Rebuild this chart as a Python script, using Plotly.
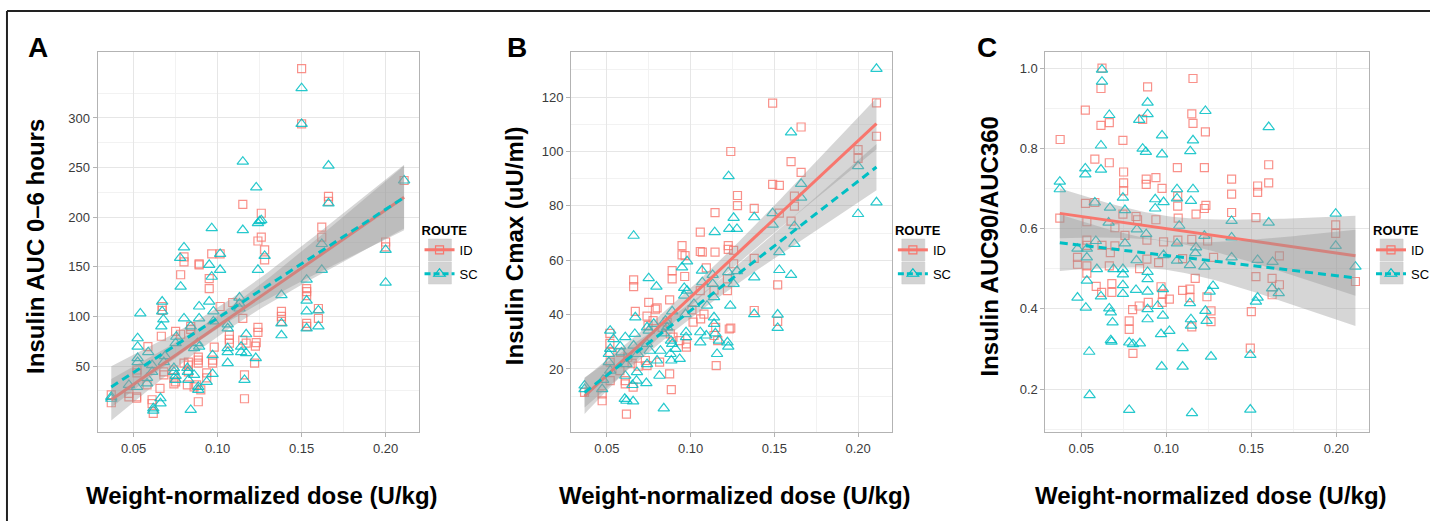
import numpy as np
import plotly.graph_objects as go

ID_COLOR = "#F8766D"
SC_COLOR = "#00BFC4"
FONT = "Liberation Sans, Arial, sans-serif"

# ---------------- Panel A: Insulin AUC 0-6 hours ----------------
a_id_dose = [0.150, 0.150, 0.166, 0.166, 0.115, 0.126, 0.126, 0.124, 0.128, 0.128, 0.162, 0.162, 0.200, 0.200, 0.211,
             0.0965, 0.1015, 0.080, 0.080, 0.089, 0.089, 0.078, 0.095, 0.095, 0.153, 0.153, 0.153, 0.153, 0.153, 0.160,
             0.160, 0.138, 0.138, 0.138, 0.067, 0.067, 0.0665, 0.1015, 0.109, 0.115, 0.124, 0.124, 0.123, 0.1225, 0.117,
             0.115, 0.107, 0.107, 0.107, 0.098, 0.097, 0.097, 0.075, 0.078, 0.084, 0.084, 0.0585, 0.074, 0.074, 0.074,
             0.0826, 0.0826, 0.0826, 0.082, 0.086, 0.0885, 0.0885, 0.0885, 0.0885, 0.0935, 0.0935, 0.116, 0.116, 0.122,
             0.0657, 0.061, 0.061, 0.0617, 0.0518, 0.0518, 0.0472, 0.0472, 0.0367, 0.0367, 0.052, 0.052, 0.058, 0.068,
             0.068, 0.075, 0.080, 0.0875, 0.090]
a_id_auc = [349.7, 294, 221, 216, 213, 204, 180, 176, 167, 157, 190, 180, 175, 170, 237,
            163, 163, 160, 155, 153, 152, 142, 138, 128, 128, 125, 121, 93, 90, 108,
            98, 105, 100, 95, 110, 106, 80, 110, 114, 98, 89, 84, 73.5, 70, 73,
            76, 81, 77, 73, 69, 56, 53, 85, 82, 90, 87, 69.5, 46, 38, 32,
            54, 51, 44, 31, 29, 59, 56, 53, 14, 43, 38, 41, 17, 53,
            27.5, 16, 12, 2.3, 19, 17.5, 22.5, 19, 21, 13, 46, 43, 31, 44,
            41, 34, 53, 31, 26]
a_sc_dose = [0.150, 0.150, 0.115, 0.166, 0.123, 0.211, 0.166, 0.125, 0.126, 0.124, 0.0965, 0.115, 0.128, 0.1015, 0.080,
             0.0777, 0.1015, 0.124, 0.162, 0.162, 0.095, 0.0965, 0.078, 0.153, 0.153, 0.153, 0.153, 0.160, 0.160, 0.138,
             0.138, 0.138, 0.200, 0.200, 0.054, 0.067, 0.067, 0.0677, 0.0665, 0.080, 0.089, 0.089, 0.095, 0.0975, 0.0975,
             0.084, 0.113, 0.113, 0.113, 0.117, 0.106, 0.106, 0.106, 0.106, 0.106, 0.114, 0.114, 0.117, 0.1227, 0.097,
             0.097, 0.116, 0.0524, 0.0524, 0.0524, 0.0524, 0.0587, 0.061, 0.061, 0.058, 0.058, 0.0687, 0.068, 0.074, 0.074,
             0.075, 0.075, 0.082, 0.0823, 0.0826, 0.086, 0.0885, 0.0885, 0.0935, 0.084, 0.0617, 0.0617, 0.066, 0.066,
             0.052, 0.0472, 0.0367, 0.0367, 0.0754, 0.075, 0.086, 0.088, 0.089]
a_sc_auc = [330, 294, 256, 252, 230, 237, 214, 196, 197, 194, 189, 187, 161, 163, 169.5,
            159, 147, 147, 173, 147, 152, 140, 130, 137, 116, 105, 88, 106, 90, 121.5,
            93, 81, 167, 134, 103, 115, 105, 97, 90, 98, 110, 98, 115, 105, 95,
            90, 119, 113, 108, 82, 92, 88, 68, 64, 53, 69.5, 64, 63, 58, 61,
            42, 36, 78, 69.5, 58, 54, 64, 51, 44, 38, 32.5, 60, 54, 48, 44,
            40, 36, 48, 44, 36, 41, 29, 26, 34, 5.7, 7.4, 5, 17.5, 12.4,
            29, 31, 19, 17, 79.5, 73, 68, 73, 69.5]

# ---------------- Panel B: Insulin Cmax ----------------
b_id_dose = [0.211, 0.211, 0.200, 0.200, 0.149, 0.166, 0.160, 0.166, 0.149, 0.153, 0.162, 0.162, 0.160, 0.153, 0.124,
             0.128, 0.128, 0.138, 0.138, 0.1146, 0.1058, 0.0949, 0.0949, 0.0967, 0.1058, 0.107, 0.1146, 0.1225, 0.1225,
             0.1257, 0.1257, 0.089, 0.089, 0.0965, 0.1094, 0.066, 0.066, 0.075, 0.079, 0.080, 0.067, 0.0875, 0.1058,
             0.114, 0.122, 0.122, 0.1015, 0.106, 0.108, 0.115, 0.114, 0.1162, 0.1231, 0.124, 0.152, 0.152, 0.138,
             0.1153, 0.074, 0.0746, 0.0776, 0.086, 0.083, 0.0879, 0.0895, 0.0935, 0.0975, 0.0975, 0.0518, 0.0518,
             0.0518, 0.052, 0.058, 0.0625, 0.0651, 0.0687, 0.073, 0.074, 0.0815, 0.0875, 0.0885, 0.0367, 0.0472,
             0.0472, 0.061, 0.061, 0.0617, 0.0657, 0.052, 0.0578, 0.1008]
b_id_cmax = [117.9, 105.6, 100.7, 97.5, 117.8, 109, 96.3, 92.3, 87.9, 87.5, 83.6, 79.9, 74.4, 77.3, 100,
             83.8, 80.1, 79.1, 60.7, 77.5, 70.3, 65.4, 62, 61.7, 63.2, 63, 63, 65.4, 64,
             63.6, 58.7, 56.2, 53.1, 54, 57.2, 52.8, 50.3, 44.5, 42, 42.5, 41.2, 45.4, 48.8,
             49, 53.1, 48.8, 37.2, 38.4, 40.2, 35.3, 32.3, 30.4, 34.7, 35, 50.9, 37.5, 41.5,
             21.2, 39.4, 36, 37.8, 37.2, 35.3, 32.9, 31.7, 30.4, 29.2, 28, 33.1, 29.4,
             26.1, 22.5, 26.1, 24.3, 22.1, 21, 23.1, 21.2, 22.5, 18.2, 12.4, 11.4, 10.8,
             8.3, 15.7, 14.5, 3.4, 13.3, 15.7, 19.4, 41.7]
b_sc_dose = [0.211, 0.211, 0.200, 0.200, 0.160, 0.166, 0.166, 0.149, 0.149, 0.162, 0.162, 0.153, 0.153, 0.160, 0.138,
             0.138, 0.138, 0.152, 0.152, 0.1227, 0.1257, 0.1231, 0.1277, 0.1144, 0.066, 0.0979, 0.0949, 0.1068, 0.107,
             0.1132, 0.1225, 0.1277, 0.1257, 0.114, 0.1132, 0.075, 0.0796, 0.0962, 0.0962, 0.0979, 0.1237, 0.1098,
             0.102, 0.097, 0.078, 0.089, 0.067, 0.074, 0.075, 0.085, 0.086, 0.084, 0.0883, 0.089, 0.091, 0.0935,
             0.088, 0.0885, 0.082, 0.1058, 0.1058, 0.1094, 0.114, 0.114, 0.1148, 0.117, 0.122, 0.1225, 0.1158, 0.0973,
             0.0973, 0.052, 0.054, 0.061, 0.0667, 0.058, 0.052, 0.0512, 0.0512, 0.0587, 0.0617, 0.066, 0.0685, 0.074,
             0.0756, 0.080, 0.074, 0.068, 0.0677, 0.061, 0.0736, 0.0814, 0.0653, 0.0607, 0.0617, 0.0657, 0.084,
             0.0367, 0.0367, 0.0472, 0.052, 0.0478]
b_sc_cmax = [130.4, 81.3, 94.6, 77, 107, 88.1, 83, 77.3, 73.1, 72.5, 66, 63, 56.4, 54.6, 75.8,
             53.7, 40.2, 40, 35.1, 90.9, 75.6, 71.5, 71.5, 70.3, 69, 59.6, 57.4, 56.2, 51.9,
             54.6, 55.6, 56, 51.3, 46.4, 51.3, 53.4, 50.3, 49.8, 47, 48.8, 43.3, 43.3,
             43.9, 40.2, 36.6, 41.2, 39, 35.3, 34.1, 37.8, 35.3, 33.1, 30.4, 29.2, 27.4, 23.7,
             25.5, 23.1, 26.7, 33.5, 29.8, 32.3, 39, 36.6, 33.1, 30.4, 29.8, 28.2, 25.5, 33.5,
             31.7, 34.1, 31, 31.7, 32.9, 28.3, 27.4, 25.5, 22.5, 26.1, 21.8, 28.6, 25.5, 29.2,
             26.7, 23.1, 21.8, 18.8, 15.7, 17.5, 14.8, 17.5, 14.1, 9, 8.3, 8.1, 5.5,
             13.9, 12.6, 12.6, 19.4, 16]

# ---------------- Panel C: Insulin AUC90/AUC360 ----------------
c_id_dose = [0.0622, 0.0616, 0.1157, 0.089, 0.0524, 0.0665, 0.0616, 0.0861, 0.115, 0.1157, 0.123, 0.0376, 0.0745,
             0.058, 0.0665, 0.1602, 0.1065, 0.1224, 0.0749, 0.0939, 0.0882, 0.0882, 0.1384, 0.1384, 0.1602, 0.1537,
             0.1537, 0.0749, 0.0749, 0.0975, 0.1067, 0.1067, 0.1233, 0.1224, 0.1175, 0.1384, 0.1527, 0.107, 0.0525,
             0.058, 0.0374, 0.0533, 0.0745, 0.0822, 0.0831, 0.0698, 0.0757, 0.0939, 0.0886, 0.0984, 0.115, 0.1243,
             0.1068, 0.0533, 0.0533, 0.0622, 0.0698, 0.0478, 0.0478, 0.0533, 0.0533, 0.0671, 0.0665, 0.0843, 0.0886,
             0.0955, 0.1096, 0.1278, 0.1665, 0.1527, 0.1622, 0.117, 0.1996, 0.1996, 0.2112, 0.1665, 0.1622, 0.0588,
             0.062, 0.068, 0.068, 0.0969, 0.0978, 0.1096, 0.1139, 0.1139, 0.1018, 0.0976, 0.0894, 0.0841, 0.0802,
             0.1239, 0.1263, 0.1263, 0.150, 0.0782, 0.0782, 0.0804, 0.115, 0.1494]
c_id_ratio = [1.0, 0.949, 0.974, 0.953, 0.895, 0.864, 0.857, 0.872, 0.886, 0.862, 0.841, 0.822, 0.82,
              0.773, 0.764, 0.759, 0.752, 0.752, 0.741, 0.727, 0.723, 0.71, 0.723, 0.686, 0.714, 0.706,
              0.69, 0.714, 0.694, 0.7, 0.681, 0.656, 0.658, 0.65, 0.636, 0.64, 0.627, 0.626, 0.663,
              0.665, 0.626, 0.617, 0.636, 0.63, 0.622, 0.602, 0.583, 0.622, 0.571, 0.567, 0.573, 0.569,
              0.571, 0.571, 0.558, 0.558, 0.557, 0.528, 0.511, 0.507, 0.489, 0.54, 0.507, 0.5, 0.524,
              0.515, 0.525, 0.528, 0.532, 0.48, 0.476, 0.476, 0.609, 0.588, 0.468, 0.46, 0.435, 0.456,
              0.441, 0.441, 0.463, 0.455, 0.437, 0.446, 0.449, 0.428, 0.424, 0.416, 0.416, 0.407, 0.398,
              0.43, 0.395, 0.368, 0.393, 0.37, 0.349, 0.289, 0.355, 0.302]
c_sc_dose = [0.0622, 0.0622, 0.089, 0.123, 0.0665, 0.089, 0.0841, 0.1602, 0.1157, 0.0616, 0.0975, 0.1141, 0.0861,
             0.088, 0.0975, 0.0524, 0.0524, 0.0616, 0.0374, 0.0374, 0.058, 0.1063, 0.1157, 0.1063, 0.1145, 0.0745,
             0.0935, 0.0984, 0.0935, 0.0669, 0.0757, 0.1384, 0.1602, 0.1996, 0.1996, 0.2112, 0.1076, 0.0661, 0.0827,
             0.1224, 0.1384, 0.0882, 0.0757, 0.0586, 0.0478, 0.0533, 0.0533, 0.0825, 0.0984, 0.1063, 0.1063, 0.1175,
             0.1171, 0.1139, 0.1224, 0.1384, 0.1537, 0.1625, 0.0592, 0.069, 0.0745, 0.0745, 0.0533, 0.089, 0.089,
             0.0616, 0.0745, 0.0745, 0.0822, 0.089, 0.098, 0.0478, 0.0527, 0.0665, 0.0674, 0.0684, 0.0674, 0.0678,
             0.089, 0.089, 0.0949, 0.098, 0.0969, 0.1018, 0.1139, 0.1145, 0.1145, 0.123, 0.1237, 0.1275, 0.1255,
             0.1537, 0.1527, 0.1622, 0.1661, 0.0782, 0.0804, 0.0845, 0.0547, 0.1096, 0.1263, 0.1494, 0.0973, 0.1096,
             0.0549, 0.0782, 0.1151, 0.1494]
c_sc_ratio = [0.996, 0.966, 0.914, 0.893, 0.883, 0.885, 0.871, 0.853, 0.82, 0.807, 0.832, 0.793, 0.799,
              0.791, 0.785, 0.75, 0.735, 0.747, 0.717, 0.698, 0.665, 0.698, 0.698, 0.675, 0.669, 0.677,
              0.673, 0.666, 0.65, 0.652, 0.646, 0.619, 0.615, 0.637, 0.557, 0.505, 0.607, 0.615, 0.598,
              0.582, 0.578, 0.586, 0.563, 0.569, 0.55, 0.55, 0.528, 0.521, 0.534, 0.563, 0.52, 0.553,
              0.539, 0.509, 0.505, 0.528, 0.522, 0.517, 0.499, 0.499, 0.499, 0.486, 0.47, 0.492, 0.474,
              0.431, 0.459, 0.437, 0.447, 0.443, 0.449, 0.428, 0.403, 0.401, 0.391, 0.366, 0.322, 0.318,
              0.399, 0.374, 0.407, 0.383, 0.337, 0.345, 0.414, 0.374, 0.358, 0.395, 0.37, 0.457, 0.443,
              0.428, 0.418, 0.451, 0.439, 0.316, 0.312, 0.314, 0.293, 0.302, 0.281, 0.285, 0.256, 0.256,
              0.185, 0.148, 0.14, 0.149]

X_TICKS = [0.05, 0.10, 0.15, 0.20]
X_TICK_TEXT = ["0.05", "0.10", "0.15", "0.20"]
X_MINOR = [0.075, 0.125, 0.175]

A_TICKS = [50, 100, 150, 200, 250, 300]
A_MINOR = [25, 75, 125, 175, 225, 275, 325]
B_TICKS = [20, 40, 60, 80, 100, 120]
B_MINOR = [10, 30, 50, 70, 90, 110, 130]
C_TICKS = [0.2, 0.4, 0.6, 0.8, 1.0]
C_TICK_TEXT = ["0.2", "0.4", "0.6", "0.8", "1.0"]
C_MINOR = [0.1, 0.3, 0.5, 0.7, 0.9]

W, H = 1435, 521


def fx(p):
    return p / W


def fy(p):
    return 1 - p / H


def t975(df):
    z = 1.959964
    return z + (z ** 3 + z) / (4 * df) + (5 * z ** 5 + 16 * z ** 3 + 3 * z) / (96 * df ** 2)


def lm_fit(x, y):
    """Linear model fit with 95% confidence band (as geom_smooth(method='lm'))."""
    x = np.asarray(x, float)
    y = np.asarray(y, float)
    n = len(x)
    b1, b0 = np.polyfit(x, y, 1)
    resid = y - (b0 + b1 * x)
    s = np.sqrt(np.sum(resid ** 2) / (n - 2))
    xbar = x.mean()
    sxx = np.sum((x - xbar) ** 2)
    xs = np.linspace(x.min(), x.max(), 80)
    yh = b0 + b1 * xs
    se = s * np.sqrt(1.0 / n + (xs - xbar) ** 2 / sxx)
    t = t975(n - 2)
    return xs, yh, yh - t * se, yh + t * se


fig = go.Figure()

panels = [
    dict(idx="", xd=(98, 420), xr=[0.0286, 0.2196], yr=[-16.5, 366.5], yt=A_TICKS, ytt=[str(v) for v in A_TICKS],
         ym=A_MINOR, idd=(a_id_dose, a_id_auc), scd=(a_sc_dose, a_sc_auc), leg="legend",
         letter="A", letter_x=26, ytitle="Insulin AUC 0\u20136 hours", ytx=35, key_x=430),
    dict(idx="2", xd=(573, 895), xr=[0.0286, 0.2202], yr=[-3.2, 136.6], yt=B_TICKS, ytt=[str(v) for v in B_TICKS],
         ym=B_MINOR, idd=(b_id_dose, b_id_cmax), scd=(b_sc_dose, b_sc_cmax), leg="legend2",
         letter="B", letter_x=507, ytitle="Insulin Cmax (uU/ml)", ytx=516, key_x=905),
    dict(idx="3", xd=(1049, 1374), xr=[0.0289, 0.2193], yr=[0.093, 1.04], yt=C_TICKS, ytt=C_TICK_TEXT,
         ym=C_MINOR, idd=(c_id_dose, c_id_ratio), scd=(c_sc_dose, c_sc_ratio), leg="legend3",
         letter="C", letter_x=978, ytitle="Insulin AUC90/AUC360", ytx=992, key_x=1385),
]

PLOT_TOP, PLOT_BOT = 52, 432
annotations = []
shapes = []

for p in panels:
    xa = "x" + p["idx"]
    ya = "y" + p["idx"]
    # points
    fig.add_trace(go.Scatter(x=p["idd"][0], y=p["idd"][1], mode="markers", xaxis=xa, yaxis=ya,
                             marker=dict(symbol="square-open", size=8, color=ID_COLOR, opacity=0.8,
                                         line=dict(width=1.2, color=ID_COLOR)),
                             showlegend=False, hoverinfo="skip"))
    fig.add_trace(go.Scatter(x=p["scd"][0], y=p["scd"][1], mode="markers", xaxis=xa, yaxis=ya,
                             marker=dict(symbol="triangle-up-open", size=10, color=SC_COLOR, opacity=0.85,
                                         line=dict(width=1.2, color=SC_COLOR)),
                             showlegend=False, hoverinfo="skip"))
    # smooths
    for (dx, dy), col, dash in [(p["idd"], ID_COLOR, "solid"), (p["scd"], SC_COLOR, "8px,5px")]:
        xs, yh, lo, hi = lm_fit(dx, dy)
        fig.add_trace(go.Scatter(x=np.concatenate([xs, xs[::-1]]), y=np.concatenate([hi, lo[::-1]]),
                                 fill="toself", fillcolor="rgba(153,153,153,0.4)", line=dict(width=0),
                                 mode="lines", xaxis=xa, yaxis=ya, showlegend=False, hoverinfo="skip"))
        fig.add_trace(go.Scatter(x=xs, y=yh, mode="lines", xaxis=xa, yaxis=ya,
                                 line=dict(color=col, width=3, dash=dash),
                                 showlegend=False, hoverinfo="skip"))
    # legend entries
    fig.add_trace(go.Scatter(x=[None], y=[None], mode="lines+markers", name="ID", legend=p["leg"],
                             legendgroup=p["leg"] + "id", xaxis=xa, yaxis=ya,
                             line=dict(color=ID_COLOR, width=3),
                             marker=dict(symbol="square-open", size=8, color=ID_COLOR, line=dict(width=1.2))))
    fig.add_trace(go.Scatter(x=[None], y=[None], mode="lines+markers", name="SC", legend=p["leg"],
                             legendgroup=p["leg"] + "sc", xaxis=xa, yaxis=ya,
                             line=dict(color=SC_COLOR, width=3, dash="6px,3px"),
                             marker=dict(symbol="triangle-up-open", size=10, color=SC_COLOR, line=dict(width=1.2))))

    common_ax = dict(showline=True, mirror=True, linecolor="#b3b3b3", linewidth=1,
                     ticks="outside", ticklen=4, tickcolor="#b3b3b3", tickwidth=1,
                     tickfont=dict(family=FONT, size=13, color="#3a3a3a"),
                     showgrid=True, gridcolor="#e6e6e6", gridwidth=1, zeroline=False)
    fig.update_layout(**{
        "xaxis" + p["idx"]: dict(domain=[fx(p["xd"][0]), fx(p["xd"][1])], range=p["xr"], anchor=ya,
                                tickvals=X_TICKS, ticktext=X_TICK_TEXT,
                                minor=dict(tickvals=X_MINOR, showgrid=True, gridcolor="#f2f2f2", gridwidth=1,
                                           ticks=""),
                                **common_ax),
        "yaxis" + p["idx"]: dict(domain=[fy(PLOT_BOT), fy(PLOT_TOP)], range=p["yr"], anchor=xa,
                                tickvals=p["yt"], ticktext=p["ytt"],
                                minor=dict(tickvals=p["ym"], showgrid=True, gridcolor="#f2f2f2", gridwidth=1,
                                           ticks=""),
                                **common_ax),
    })
    # panel letter
    annotations.append(dict(text="<b>%s</b>" % p["letter"], x=fx(p["letter_x"]), y=fy(47), xref="paper",
                            yref="paper", xanchor="left", yanchor="middle", showarrow=False,
                            font=dict(family=FONT, size=28, color="black")))
    # axis titles
    cx = (p["xd"][0] + p["xd"][1]) / 2 + 4
    annotations.append(dict(text="<b>Weight-normalized dose (U/kg)</b>", x=fx(cx), y=fy(495), xref="paper",
                            yref="paper", xanchor="center", yanchor="middle", showarrow=False,
                            font=dict(family=FONT, size=24, color="black")))
    annotations.append(dict(text="<b>%s</b>" % p["ytitle"], x=fx(p["ytx"]), y=fy(246), xref="paper",
                            yref="paper", xanchor="center", yanchor="middle", showarrow=False, textangle=-90,
                            font=dict(family=FONT, size=24, color="black")))
    # legend key backgrounds
    for top in (239, 262):
        shapes.append(dict(type="rect", xref="paper", yref="paper", x0=fx(p["key_x"]), x1=fx(p["key_x"] + 23),
                           y0=fy(top + 22), y1=fy(top), fillcolor="#d3d3d3", line=dict(width=0.5, color="#c8c8c8"),
                           layer="below"))
    fig.update_layout(**{p["leg"]: dict(
        x=fx(p["key_x"] - 9), y=fy(218), xanchor="left", yanchor="top", bgcolor="rgba(0,0,0,0)",
        title=dict(text="<b>ROUTE</b>", font=dict(family=FONT, size=13, color="black")),
        font=dict(family=FONT, size=13, color="black"), tracegroupgap=4, itemwidth=30)})

# figure frame (top and left rules)
shapes.append(dict(type="line", xref="paper", yref="paper", x0=fx(7), x1=1, y0=fy(11), y1=fy(11),
                   line=dict(color="#222222", width=2)))
shapes.append(dict(type="line", xref="paper", yref="paper", x0=fx(7), x1=fx(7), y0=0, y1=fy(11),
                   line=dict(color="#222222", width=2)))

fig.update_layout(width=W, height=H, margin=dict(l=0, r=0, t=0, b=0), paper_bgcolor="white",
                  plot_bgcolor="white", annotations=annotations, shapes=shapes, showlegend=True,
                  font=dict(family=FONT))

fig.write_html("out.html")
